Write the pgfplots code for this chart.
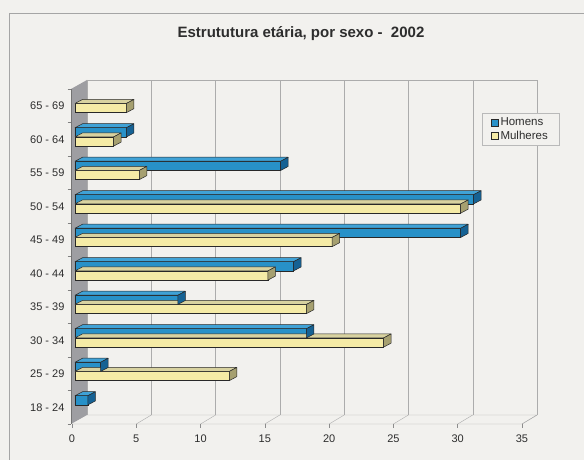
\documentclass[border=0pt]{standalone}
\usepackage{fontspec}
\setmainfont{Liberation Sans}
\usepackage{pgfplots}
\pgfplotsset{compat=1.18}
\usepackage{pgfplotstable}

\definecolor{bg}{RGB}{242,241,238}
\definecolor{framec}{RGB}{165,165,165}
\definecolor{gridc}{RGB}{172,172,172}
\definecolor{wallc}{RGB}{158,158,162}
\definecolor{hfront}{RGB}{40,145,200}
\definecolor{htop}{RGB}{64,162,214}
\definecolor{hside}{RGB}{22,98,148}
\definecolor{mfront}{RGB}{245,235,166}
\definecolor{mtop}{RGB}{216,210,160}
\definecolor{mside}{RGB}{166,160,112}
\definecolor{edgec}{RGB}{40,40,40}
\definecolor{txt}{RGB}{45,45,45}

% age group index, Homens, Mulheres
\pgfplotstableread{
idx h m
0 1 0
1 2 12
2 18 24
3 8 18
4 17 15
5 30 20
6 31 30
7 16 5
8 4 3
9 0 4
}\agedata

% top and right faces of a bar, drawn at the bar's end point
\newcommand\barfaces[4]{%
  \pgfmathsetlengthmacro\xa{3pt-\barval*12.857pt}%
  \pgfmathsetlengthmacro\xb{3pt}%
  \pgfmathsetlengthmacro\xc{3pt+7.5pt}%
  \pgfmathsetlengthmacro\xd{\xa+7.5pt}%
  \pgfmathsetlengthmacro\yb{#1}%
  \pgfmathsetlengthmacro\yt{#2}%
  \pgfmathsetlengthmacro\ytt{#2+4pt}%
  \pgfmathsetlengthmacro\ybb{#1+4pt}%
  \pgfsetlinewidth{0.5pt}%
  \pgfsetstrokecolor{edgec}%
  \pgfsetroundjoin
  \pgfsetfillcolor{#3}%
  \pgfpathmoveto{\pgfqpoint{\xa}{\yt}}%
  \pgfpathlineto{\pgfqpoint{\xb}{\yt}}%
  \pgfpathlineto{\pgfqpoint{\xc}{\ytt}}%
  \pgfpathlineto{\pgfqpoint{\xd}{\ytt}}%
  \pgfpathclose
  \pgfusepath{fill,stroke}%
  \pgfsetfillcolor{#4}%
  \pgfpathmoveto{\pgfqpoint{\xb}{\yb}}%
  \pgfpathlineto{\pgfqpoint{\xb}{\yt}}%
  \pgfpathlineto{\pgfqpoint{\xc}{\ytt}}%
  \pgfpathlineto{\pgfqpoint{\xc}{\ybb}}%
  \pgfpathclose
  \pgfusepath{fill,stroke}%
}
\pgfdeclareplotmark{boxh}{\barfaces{2.3pt}{11.5pt}{htop}{hside}}
\pgfdeclareplotmark{boxm}{\barfaces{-6.9pt}{2.3pt}{mtop}{mside}}

\begin{document}
\begin{tikzpicture}[x=1pt,y=1pt]
\fill[bg] (0,0) rectangle (584,460);
\useasboundingbox (0,0) rectangle (584,460);
\draw[framec, line width=0.7pt] (9,0) -- (9,447) -- (584,447);
% side wall
\fill[wallc] (71,36) -- (71,371) -- (87,380) -- (87,45) -- cycle;
\draw[black!55] (71,36) -- (71,371);
% floor
\draw[gridc] (72,36) -- (522,36) -- (537,45) -- (87,45);
\foreach \k in {1,...,7} \draw[gridc] (72+64.2857*\k,36) -- (87+64.2857*\k,45);
% back plane and grid
\draw[gridc] (87,45) -- (87,380) -- (537,380) -- (537,45);
\foreach \k in {1,...,6} \draw[gridc] (87+64.2857*\k,45) -- (87+64.2857*\k,380);
% category separators on the wall edge
\foreach \k in {0,...,10} \draw[black!50] (67.5,36+33.5*\k) -- (71,36+33.5*\k);
% title
\node[font=\bfseries\fontsize{15}{18}\selectfont, text=txt] at (301,426)
  {Estrututura etária, por sexo -\ \ 2002};

\begin{axis}[
  at={(72pt,36pt)}, anchor=south west,
  scale only axis, x=12.857pt, y=33.5pt,
  xmin=0, xmax=35, ymin=-0.5, ymax=9.5,
  clip=false,
  axis line style={draw=none},
  xtick={0,5,...,35},
  ytick={0,...,9},
  yticklabels={18 - 24,25 - 29,30 - 34,35 - 39,40 - 44,45 - 49,50 - 54,55 - 59,60 - 64,65 - 69},
  tick align=outside, tick pos=left,
  major tick length=4pt,
  xtick style={draw=black!45, line width=0.5pt},
  ytick style={draw=none},
  /pgf/number format/assume math mode=true,
  tick label style={font=\fontsize{11}{13}\selectfont, text=txt},
  xticklabel style={yshift=-3pt},
  reverse legend,
  legend cell align=left,
  legend style={at={(0.91,0.928)}, anchor=north west, draw=gray!55, fill=bg,
    font=\fontsize{11.5}{13}\selectfont, text=txt,
    inner xsep=9pt, inner ysep=2.5pt, row sep=-0.5pt},
]
\addplot[xbar, bar width=9.2pt, bar shift=-2.3pt, fill=mfront, draw=edgec, line width=0.5pt,
  xshift=3pt, x filter/.expression={x==0 ? nan : x},
  legend image code/.code={\draw[fill=mfront, draw=edgec, line width=0.6pt] (0pt,-3.6pt) rectangle (7.2pt,3.6pt);}]
  table[x=m, y=idx] {\agedata};
\addlegendentry{Mulheres}
\addplot[forget plot, only marks, mark=boxm,
  visualization depends on={\thisrow{m} \as \barval},
  x filter/.expression={x==0 ? nan : x}]
  table[x=m, y=idx] {\agedata};
\addplot[xbar, bar width=9.2pt, bar shift=6.9pt, fill=hfront, draw=edgec, line width=0.5pt,
  xshift=3pt, x filter/.expression={x==0 ? nan : x},
  legend image code/.code={\draw[fill=hfront, draw=edgec, line width=0.6pt] (0pt,-3.6pt) rectangle (7.2pt,3.6pt);}]
  table[x=h, y=idx] {\agedata};
\addlegendentry{Homens}
\addplot[forget plot, only marks, mark=boxh,
  visualization depends on={\thisrow{h} \as \barval},
  x filter/.expression={x==0 ? nan : x}]
  table[x=h, y=idx] {\agedata};
\end{axis}
\end{tikzpicture}
\end{document}
